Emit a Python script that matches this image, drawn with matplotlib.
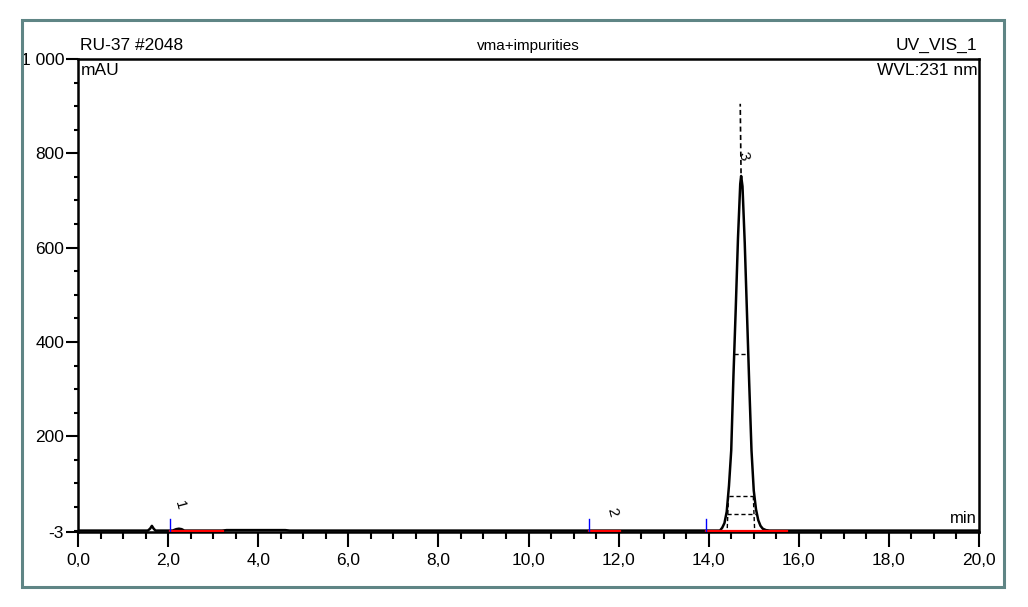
import numpy as np
import matplotlib.pyplot as plt
from matplotlib.patches import Rectangle
from matplotlib.ticker import MultipleLocator

plt.rcParams['font.family'] = ['Liberation Sans', 'DejaVu Sans']

# chromatogram trace (min, mAU)
trace_t = [0.0, 1.55, 1.60, 1.64, 1.68, 1.72, 2.10, 2.18, 2.24, 2.30, 2.36, 3.2, 3.3, 4.6, 4.7,
           14.25, 14.30, 14.35, 14.40, 14.45, 14.50, 14.55, 14.60, 14.65, 14.70, 14.72,
           14.75, 14.80, 14.85, 14.90, 14.95, 15.00, 15.05, 15.10, 15.15, 15.20, 15.27, 15.35, 20.0]
trace_y = [0, 0, 4, 10, 4, 0, 0, 3, 4, 3, 0, 0, 1, 1, 0,
           0, 6, 16, 40, 95, 170, 330, 470, 620, 735, 752,
           730, 610, 460, 310, 170, 85, 45, 22, 10, 4, 1, 0, 0]

# peak integration info
peak_names = ['1', '2', '3']
peak_start = [2.04, 11.34, 13.94]
peak_end = [3.22, 12.03, 15.74]
label_t = [2.25, 11.85, 14.76]
label_y = [55, 40, 795]

# width markers of peak 3 (level, left, right)
width_level = [374, 73, 35]
width_left = [14.56, 14.44, 14.40]
width_right = [14.85, 14.99, 15.04]

y_ticks = [-3, 200, 400, 600, 800, 1000]
y_labels = ['-3', '200', '400', '600', '800', '1 000']
x_ticks = [0, 2, 4, 6, 8, 10, 12, 14, 16, 18, 20]
x_labels = [('%.1f' % v).replace('.', ',') for v in x_ticks]

fig = plt.figure(figsize=(10.28, 6.07), dpi=100)
ax = fig.add_axes([78/1028, 1-532/607, (979-78)/1028, (532-59)/607])

# outer frame
fig.patches.append(Rectangle((22/1028, 20/607), (1004-22)/1028, (587-20)/607,
                             transform=fig.transFigure, fill=False,
                             edgecolor='#5f8585', lw=2.2))

ax.plot(trace_t, trace_y, color='black', lw=1.8, zorder=3)

# integration baselines and marks
for s, e in zip(peak_start, peak_end):
    ax.plot([s, e], [0, 0], color='red', lw=1.6, zorder=4)
    ax.plot([s, s], [0, 25], color='blue', lw=1.0, zorder=4)
for n, tx, ty in zip(peak_names, label_t, label_y):
    ax.text(tx, ty, n, rotation=-75, fontsize=11, ha='center', va='center')

# peak width dashed helpers
for lv, l, r in zip(width_level, width_left, width_right):
    ax.plot([l, r], [lv, lv], color='black', lw=1.0, ls=(0, (3, 2)), zorder=3)
ax.plot([width_left[1], width_left[1] - 0.03], [width_level[1], 0], color='black', lw=1.0, ls=(0, (3, 2)))
ax.plot([width_right[1], width_right[1] + 0.03], [width_level[1], 0], color='black', lw=1.0, ls=(0, (3, 2)))
ax.plot([14.72, 14.70], [740, 905], color='black', lw=1.2, ls=(0, (3, 2)))

ax.set_xlim(0, 20)
ax.set_ylim(-3, 1000)
ax.set_xticks(x_ticks)
ax.set_xticklabels(x_labels)
ax.set_yticks(y_ticks)
ax.set_yticklabels(y_labels)
ax.xaxis.set_minor_locator(MultipleLocator(0.5))
ax.yaxis.set_minor_locator(MultipleLocator(50))
ax.tick_params(axis='x', which='major', length=11, width=1.5, labelsize=12.5, pad=4)
ax.tick_params(axis='x', which='minor', length=5, width=1.5)
ax.tick_params(axis='y', which='major', length=9, width=1.5, labelsize=12.5, pad=1)
ax.tick_params(axis='y', which='minor', length=3, width=1.5)
for sp in ax.spines.values():
    sp.set_linewidth(1.8)

ax.text(0.002, 1.012, 'RU-37 #2048', transform=ax.transAxes, ha='left', va='bottom', fontsize=12.5)
ax.text(0.5, 1.012, 'vma+impurities', transform=ax.transAxes, ha='center', va='bottom', fontsize=11)
ax.text(0.998, 1.012, 'UV_VIS_1', transform=ax.transAxes, ha='right', va='bottom', fontsize=12.5)
ax.text(0.003, 0.992, 'mAU', transform=ax.transAxes, ha='left', va='top', fontsize=12.5)
ax.text(0.998, 0.992, 'WVL:231 nm', transform=ax.transAxes, ha='right', va='top', fontsize=12.5)
ax.text(0.998, 0.012, 'min', transform=ax.transAxes, ha='right', va='bottom', fontsize=12)

fig.savefig('out.png', dpi=100)
